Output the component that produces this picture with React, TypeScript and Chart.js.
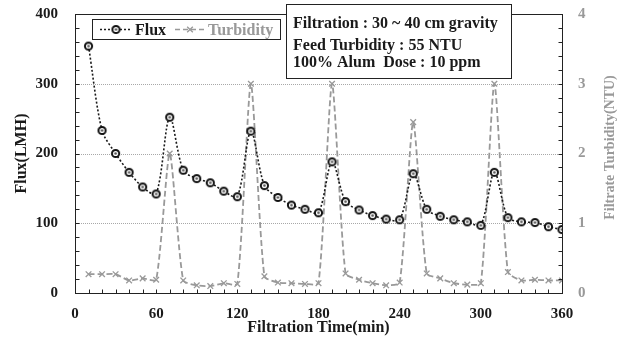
import React, { useEffect, useRef } from 'react';
import { Chart, registerables } from 'chart.js';

Chart.register(...registerables);

const times = [10, 20, 30, 40, 50, 60, 70, 80, 90, 100, 110, 120, 130, 140, 150, 160, 170, 180, 190, 200, 210, 220, 230, 240, 250, 260, 270, 280, 290, 300, 310, 320, 330, 340, 350, 360];
const fluxValues = [354, 233, 200, 173, 152, 142, 252, 176, 164, 158, 146, 138, 232, 154, 137, 126, 120, 115, 188, 131, 119, 111, 106, 105, 171, 120, 110, 105, 102, 97, 173, 108, 102, 101, 95, 91];
const turbidityValues = [0.27, 0.27, 0.27, 0.18, 0.21, 0.19, 2.0, 0.18, 0.11, 0.1, 0.14, 0.13, 3.0, 0.24, 0.15, 0.14, 0.13, 0.14, 3.0, 0.28, 0.19, 0.14, 0.11, 0.15, 2.45, 0.28, 0.21, 0.14, 0.12, 0.14, 3.0, 0.3, 0.18, 0.19, 0.18, 0.18];
const xTickValues = [0, 60, 120, 180, 240, 300, 360];
const fluxTickValues = [0, 100, 200, 300, 400];
const turbTickValues = [0, 1, 2, 3, 4];
const fluxGridValues = [100, 200, 300];
const seriesNames = ['Flux', 'Turbidity'];
const annotationLines = ['Filtration : 30 ~ 40 cm gravity', 'Feed Turbidity : 55 NTU', '100% Alum  Dose : 10 ppm'];
const xTitle = 'Filtration Time(min)';
const yTitle = 'Flux(LMH)';
const y1Title = 'Filtrate Turbidity(NTU)';

const SERIF = '"Liberation Serif", "Times New Roman", serif';
const GRAY = '#999999';
const BLACK = '#1a1a1a';

function makeFluxMarker(): HTMLCanvasElement {
  const c = document.createElement('canvas');
  c.width = 11;
  c.height = 11;
  const g = c.getContext('2d')!;
  g.beginPath();
  g.arc(5.5, 5.5, 3.6, 0, Math.PI * 2);
  g.fillStyle = '#ffffff';
  g.fill();
  g.lineWidth = 2;
  g.strokeStyle = '#111111';
  g.stroke();
  g.beginPath();
  g.arc(5.5, 5.5, 1.3, 0, Math.PI * 2);
  g.fillStyle = '#555555';
  g.fill();
  return c;
}

function drawCross(ctx: CanvasRenderingContext2D, x: number, y: number, r: number, color: string) {
  const d = r * Math.SQRT1_2;
  ctx.save();
  ctx.strokeStyle = color;
  ctx.lineWidth = 1.3;
  ctx.setLineDash([]);
  ctx.beginPath();
  ctx.moveTo(x - d, y - d);
  ctx.lineTo(x + d, y + d);
  ctx.moveTo(x - d, y + d);
  ctx.lineTo(x + d, y - d);
  ctx.stroke();
  ctx.restore();
}

export default function App() {
  const ref = useRef<HTMLCanvasElement | null>(null);

  useEffect(() => {
    const canvas = ref.current;
    if (!canvas) return;
    const marker = makeFluxMarker();

    const gridPlugin = {
      id: 'customGrid',
      beforeDatasetsDraw(chart: any) {
        const { ctx, chartArea } = chart;
        const y = chart.scales.y;
        ctx.save();
        ctx.strokeStyle = '#a8a8a8';
        ctx.lineWidth = 1;
        ctx.setLineDash([1, 1]);
        fluxGridValues.forEach((v) => {
          const py = Math.round(y.getPixelForValue(v)) + 0.5;
          ctx.beginPath();
          ctx.moveTo(chartArea.left, py);
          ctx.lineTo(chartArea.right, py);
          ctx.stroke();
        });
        ctx.restore();
      },
      afterDraw(chart: any) {
        const { ctx, chartArea } = chart;
        const sx = chart.scales.x;
        const sy = chart.scales.y;
        const sy1 = chart.scales.y1;
        const L = Math.round(chartArea.left) + 0.5;
        const R = Math.round(chartArea.right) + 0.5;
        const T = Math.round(chartArea.top) + 0.5;
        const B = Math.round(chartArea.bottom) + 0.5;
        ctx.save();
        ctx.setLineDash([]);
        ctx.strokeStyle = '#222222';
        ctx.lineWidth = 1;
        ctx.strokeRect(L, T, R - L, B - T);
        // inward minor ticks
        ctx.beginPath();
        for (let v = 0; v <= 400; v += 20) {
          const py = Math.round(sy.getPixelForValue(v)) + 0.5;
          ctx.moveTo(L, py);
          ctx.lineTo(L + 4, py);
        }
        for (let i = 0; i <= 20; i++) {
          const py = Math.round(sy1.getPixelForValue(i * 0.2)) + 0.5;
          ctx.moveTo(R, py);
          ctx.lineTo(R - 4, py);
        }
        for (let v = 0; v <= 360; v += 10) {
          const px = Math.round(sx.getPixelForValue(v)) + 0.5;
          ctx.moveTo(px, B);
          ctx.lineTo(px, B - 4);
        }
        ctx.stroke();

        // legend box
        const lx = chartArea.left + 17;
        const ly = chartArea.top + 5;
        const lw = 188;
        const lh = 20;
        ctx.fillStyle = '#ffffff';
        ctx.fillRect(lx, ly, lw, lh);
        ctx.strokeStyle = '#222222';
        ctx.lineWidth = 1;
        ctx.setLineDash([]);
        ctx.strokeRect(Math.round(lx) + 0.5, Math.round(ly) + 0.5, lw, lh);
        const cy = ly + lh / 2 + 0.5;
        // flux sample
        ctx.strokeStyle = BLACK;
        ctx.lineWidth = 1.6;
        ctx.setLineDash([2, 2]);
        ctx.beginPath();
        ctx.moveTo(lx + 8, cy);
        ctx.lineTo(lx + 39, cy);
        ctx.stroke();
        ctx.setLineDash([]);
        ctx.drawImage(marker, lx + 24 - 5.5, cy - 5.5);
        ctx.font = `bold 16px ${SERIF}`;
        ctx.textBaseline = 'middle';
        ctx.textAlign = 'left';
        ctx.fillStyle = BLACK;
        ctx.fillText(seriesNames[0], lx + 43, cy + 1);
        // turbidity sample
        ctx.strokeStyle = GRAY;
        ctx.lineWidth = 1.6;
        ctx.setLineDash([5, 3]);
        ctx.beginPath();
        ctx.moveTo(lx + 83, cy);
        ctx.lineTo(lx + 114, cy);
        ctx.stroke();
        ctx.setLineDash([]);
        drawCross(ctx, lx + 98, cy, 4, GRAY);
        ctx.fillStyle = GRAY;
        ctx.fillText(seriesNames[1], lx + 116, cy + 1);

        // annotation box
        const ax = chartArea.left + 211;
        const ay = chartArea.top - 10;
        const aw = 225;
        const ah = 74;
        ctx.setLineDash([]);
        ctx.fillStyle = '#ffffff';
        ctx.fillRect(ax, ay, aw, ah);
        ctx.strokeStyle = '#222222';
        ctx.lineWidth = 1;
        ctx.strokeRect(Math.round(ax) + 0.5, Math.round(ay) + 0.5, aw, ah);
        ctx.fillStyle = BLACK;
        ctx.textBaseline = 'alphabetic';
        ctx.font = `bold 16px ${SERIF}`;
        const baselines = [24, 46, 63];
        annotationLines.forEach((t, i) => ctx.fillText(t, ax + 7, ay + baselines[i]));

        // right axis title (reads bottom to top)
        ctx.save();
        ctx.translate(chart.width - 8, (chartArea.top + chartArea.bottom) / 2 - 6);
        ctx.rotate(-Math.PI / 2);
        ctx.font = `bold 14px ${SERIF}`;
        ctx.fillStyle = GRAY;
        ctx.textAlign = 'center';
        ctx.textBaseline = 'middle';
        ctx.fillText(y1Title, 0, 0);
        ctx.restore();
        ctx.restore();
      },
    };

    const chart = new Chart(canvas, {
      type: 'line',
      data: {
        datasets: [
          {
            label: seriesNames[0],
            data: times.map((t, i) => ({ x: t, y: fluxValues[i] })),
            yAxisID: 'y',
            borderColor: BLACK,
            borderWidth: 1.6,
            borderDash: [2, 2],
            tension: 0.3,
            pointStyle: marker as any,
            pointRadius: 4,
            fill: false,
          },
          {
            label: seriesNames[1],
            data: times.map((t, i) => ({ x: t, y: turbidityValues[i] })),
            yAxisID: 'y1',
            borderColor: GRAY,
            borderWidth: 1.8,
            borderDash: [6, 3],
            tension: 0.2,
            pointStyle: 'crossRot',
            pointRadius: 4,
            pointBorderColor: GRAY,
            pointBorderWidth: 1.3,
            pointBackgroundColor: GRAY,
            fill: false,
          },
        ],
      },
      options: {
        responsive: false,
        animation: false,
        layout: { padding: { top: 14, left: 0, right: 0, bottom: 0 } },
        plugins: { legend: { display: false }, tooltip: { enabled: false } },
        scales: {
          x: {
            type: 'linear',
            min: 0,
            max: 360,
            afterBuildTicks: (s: any) => {
              s.ticks = xTickValues.map((v) => ({ value: v }));
            },
            afterFit: (s: any) => {
              s.height = 53;
              s.paddingLeft = 0;
              s.paddingRight = 0;
            },
            grid: { display: false, drawTicks: false },
            border: { display: false },
            ticks: { font: { family: SERIF, size: 15, weight: 'bold' }, color: BLACK, padding: 12, maxRotation: 0 },
            title: { display: true, text: xTitle, font: { family: SERIF, size: 16, weight: 'bold' }, color: BLACK, padding: { top: 0, bottom: 9 } },
          },
          y: {
            type: 'linear',
            position: 'left',
            min: 0,
            max: 400,
            afterBuildTicks: (s: any) => {
              s.ticks = fluxTickValues.map((v) => ({ value: v }));
            },
            afterFit: (s: any) => {
              s.width = 75;
              s.paddingTop = 0;
              s.paddingBottom = 0;
            },
            grid: { display: false, drawTicks: false },
            border: { display: false },
            ticks: { font: { family: SERIF, size: 15, weight: 'bold' }, color: BLACK, padding: 17 },
            title: { display: true, text: yTitle, font: { family: SERIF, size: 16, weight: 'bold' }, color: BLACK, padding: { top: 12, bottom: 0 } },
          },
          y1: {
            type: 'linear',
            position: 'right',
            min: 0,
            max: 4,
            afterBuildTicks: (s: any) => {
              s.ticks = turbTickValues.map((v) => ({ value: v }));
            },
            afterFit: (s: any) => {
              s.width = 56;
              s.paddingTop = 0;
              s.paddingBottom = 0;
            },
            grid: { display: false, drawTicks: false },
            border: { display: false },
            ticks: { font: { family: SERIF, size: 15, weight: 'bold' }, color: GRAY, padding: 16 },
          },
        },
      } as any,
      plugins: [gridPlugin],
    });
    return () => chart.destroy();
  }, []);

  return (
    <div style={{ position: 'absolute', left: 0, top: 0, width: 618, height: 346, background: '#fff' }}>
      <canvas ref={ref} width={618} height={346} style={{ display: 'block', width: 618, height: 346 }} />
    </div>
  );
}
